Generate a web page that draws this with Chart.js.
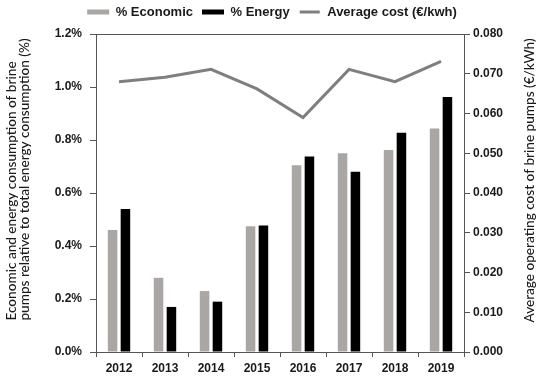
<!DOCTYPE html>
<html>
<head>
<meta charset="utf-8">
<script src="https://cdn.jsdelivr.net/npm/chart.js@4.4.1/dist/chart.umd.min.js"></script>
<style>
  html, body { margin: 0; padding: 0; background: #fff; }
  #wrap { width: 550px; height: 376px; position: relative; }
</style>
</head>
<body>
<div id="wrap"><canvas id="c" width="550" height="376"></canvas></div>
<script>
// ---- data ----
const years = ['2012', '2013', '2014', '2015', '2016', '2017', '2018', '2019'];
const economicPct = [0.46, 0.28, 0.23, 0.475, 0.705, 0.75, 0.762, 0.843];
const energyPct = [0.54, 0.17, 0.19, 0.477, 0.738, 0.68, 0.827, 0.962];
const avgCost = [0.0680, 0.0691, 0.0711, 0.0662, 0.0590, 0.0711, 0.0680, 0.0731];
const seriesNames = ['% Economic', '% Energy', 'Average cost (€/kwh)'];
const leftTitle = ['Economic and energy consumption of brine', 'pumps relative to total energy consumption (%)'];
const rightTitle = 'Average operating cost of brine pumps (€/kWh)';

const GRAY_BAR = '#aaa6a3';
const LINE_GRAY = '#7f7f7f';
const AXIS = '#555555';
const TXT = '#1a1a1a';
const tickFont = { family: '"Liberation Sans", Arial, sans-serif', size: 12, weight: 'bold' };
const TITLE_FONT = '500 13.6px Lato, "Open Sans", sans-serif';

// legend band: fixed height above the plot, drawn slightly higher
if (Chart.Legend && Chart.Legend._element) {
  const LegendEl = Chart.Legend._element;
  const origFit = LegendEl.prototype.fit;
  LegendEl.prototype.fit = function () {
    origFit.call(this);
    if (this.isHorizontal()) this.height = 34;
  };
  const origDraw = LegendEl.prototype.draw;
  LegendEl.prototype.draw = function () {
    const ctx = this.ctx;
    ctx.save();
    ctx.translate(-3, -3.5);
    origDraw.call(this);
    ctx.restore();
  };
}

const titlesPlugin = {
  id: 'titles',
  afterDraw(chart) {
    const ctx = chart.ctx;
    const a = chart.chartArea;
    ctx.save();
    // top border
    ctx.strokeStyle = AXIS;
    ctx.lineWidth = 1;
    ctx.beginPath();
    ctx.moveTo(a.left, a.top + 0.5);
    ctx.lineTo(a.right, a.top + 0.5);
    ctx.stroke();
    ctx.fillStyle = TXT;
    ctx.textAlign = 'center';
    ctx.textBaseline = 'middle';
    ctx.font = TITLE_FONT;
    const drawRot = (txt, x, y) => {
      ctx.save();
      ctx.translate(x, y);
      ctx.rotate(-Math.PI / 2);
      ctx.fillText(txt, 0, 0);
      ctx.restore();
    };
    drawRot(leftTitle[0], 11.5, 191);
    drawRot(leftTitle[1], 25, 179.5);
    drawRot(rightTitle, 530, 180.5);
    ctx.restore();
  }
};

new Chart(document.getElementById('c'), {
  data: {
    labels: years,
    datasets: [
      { type: 'bar', label: seriesNames[0], data: economicPct, backgroundColor: GRAY_BAR, yAxisID: 'y',
        categoryPercentage: 0.56, barPercentage: 0.74 },
      { type: 'bar', label: seriesNames[1], data: energyPct, backgroundColor: '#000000', yAxisID: 'y',
        categoryPercentage: 0.56, barPercentage: 0.74 },
      { type: 'line', label: seriesNames[2], data: avgCost, borderColor: LINE_GRAY, backgroundColor: LINE_GRAY,
        borderWidth: 3, pointRadius: 0, tension: 0, yAxisID: 'y1' }
    ]
  },
  options: {
    responsive: false,
    animation: false,
    devicePixelRatio: 1,
    layout: { padding: { top: 0, left: 0, right: 0, bottom: 0 } },
    plugins: {
      tooltip: { enabled: false },
      legend: {
        position: 'top',
        labels: {
          font: { family: '"Liberation Sans", Arial, sans-serif', size: 13, weight: 'bold' },
          color: TXT,
          boxWidth: 22,
          boxHeight: 5,
          padding: 9,
          generateLabels(chart) {
            const items = Chart.defaults.plugins.legend.labels.generateLabels(chart);
            items.forEach(it => {
              const ds = chart.data.datasets[it.datasetIndex];
              if (ds.type === 'line') {
                it.fillStyle = LINE_GRAY;
                it.strokeStyle = '#ffffff';
                it.lineWidth = 2;
              } else {
                it.lineWidth = 0;
              }
            });
            return items;
          }
        }
      }
    },
    scales: {
      x: {
        grid: { display: true, drawOnChartArea: false, drawTicks: true, tickLength: 5, color: AXIS, offset: true },
        border: { display: true, color: AXIS, width: 1 },
        ticks: { font: tickFont, color: TXT, padding: 4, maxRotation: 0 },
        afterFit(s) { s.height = 24; }
      },
      y: {
        position: 'left',
        min: 0, max: 1.2,
        grid: { display: true, drawOnChartArea: false, drawTicks: true, tickLength: 6, color: AXIS },
        border: { display: true, color: AXIS, width: 1 },
        ticks: { stepSize: 0.2, font: tickFont, color: TXT, padding: 8,
          callback: v => v.toFixed(1) + '%' },
        afterFit(s) { s.width = 96; }
      },
      y1: {
        position: 'right',
        min: 0, max: 0.08,
        grid: { display: true, drawOnChartArea: false, drawTicks: true, tickLength: 6, color: AXIS },
        border: { display: true, color: AXIS, width: 1 },
        ticks: { stepSize: 0.01, font: tickFont, color: TXT, padding: 3,
          callback: v => v.toFixed(3) },
        afterFit(s) { s.width = 86; }
      }
    }
  },
  plugins: [titlesPlugin]
});
</script>
</body>
</html>
